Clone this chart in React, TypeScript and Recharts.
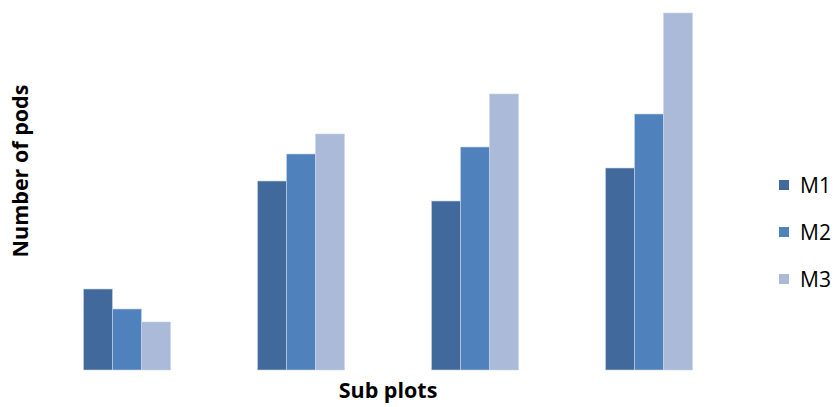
import { BarChart, Bar, XAxis, YAxis, Legend } from 'recharts';

// Pod counts per sub plot for each treatment
const subPlots = ['P1', 'P2', 'P3', 'P4'];
const m1 = [8.1, 18.9, 16.9, 20.2];
const m2 = [6.1, 21.6, 22.3, 25.6];
const m3 = [4.8, 23.6, 27.6, 35.7];

const series = [
  { key: 'M1', color: '#41699B' },
  { key: 'M2', color: '#4F81BD' },
  { key: 'M3', color: '#AABAD8' },
];

const chartData = subPlots.map((name, i) => ({
  name,
  M1: m1[i],
  M2: m2[i],
  M3: m3[i],
}));

const FONT = '"Open Sans", sans-serif';

const LegendList = () => (
  <div style={{ fontFamily: FONT, fontSize: 21, color: '#000' }}>
    {series.map((s) => (
      <div key={s.key} style={{ display: 'flex', alignItems: 'center', height: 47 }}>
        <span style={{ width: 10, height: 10, background: s.color, marginRight: 11 }} />
        <span>{s.key}</span>
      </div>
    ))}
  </div>
);

const App = () => {
  return (
    <div style={{ position: 'absolute', left: 0, top: 0, width: 838, height: 407, background: '#fff' }}>
      <BarChart
        width={838}
        height={407}
        data={chartData}
        margin={{ top: 10, right: 42, left: 40, bottom: 37 }}
        barGap={0}
        barCategoryGap={43.5}
      >
        <XAxis dataKey="name" hide />
        <YAxis domain={[0, 36]} hide />
        <Legend
          layout="vertical"
          align="right"
          verticalAlign="top"
          content={() => <LegendList />}
          wrapperStyle={{ left: 779, top: 161, width: 60 }}
        />
        {series.map((s) => (
          <Bar
            key={s.key}
            dataKey={s.key}
            fill={s.color}
            stroke="#C9D5EA"
            strokeWidth={0.6}
            isAnimationActive={false}
          />
        ))}
        <text
          x={388}
          y={398}
          textAnchor="middle"
          fontFamily={FONT}
          fontWeight={700}
          fontSize={21.5}
          fill="#000"
        >
          Sub plots
        </text>
        <text
          x={28}
          y={171}
          textAnchor="middle"
          transform="rotate(-90 28 171)"
          fontFamily={FONT}
          fontWeight={700}
          fontSize={21.5}
          fill="#000"
        >
          Number of pods
        </text>
      </BarChart>
    </div>
  );
};

export default App;
